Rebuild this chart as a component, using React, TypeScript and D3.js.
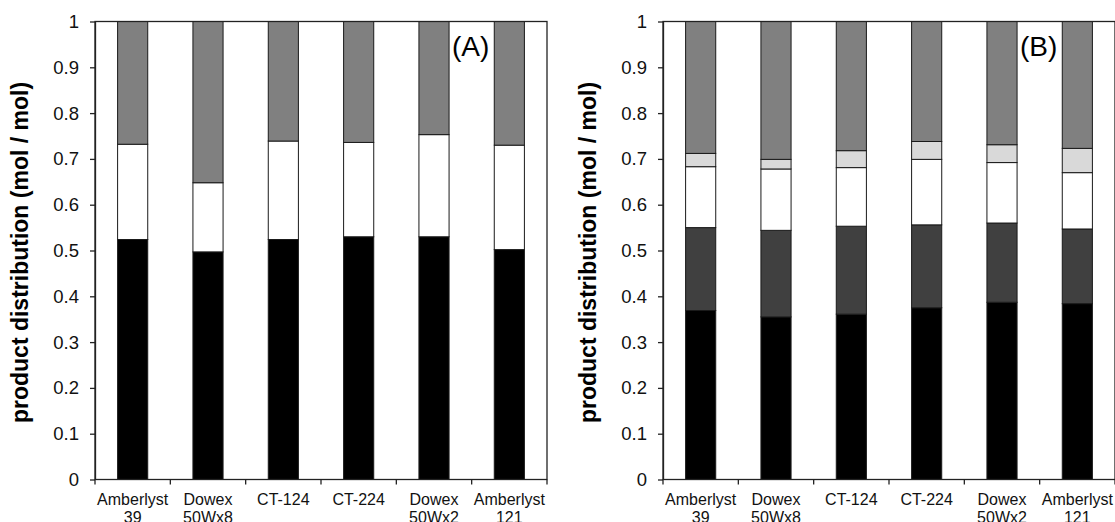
import React, { useRef, useEffect } from "react";
import * as d3 from "d3";

const categories = [
  "Amberlyst 39",
  "Dowex 50Wx8",
  "CT-124",
  "CT-224",
  "Dowex 50Wx2",
  "Amberlyst 121",
];
const yTicks = [0, 0.1, 0.2, 0.3, 0.4, 0.5, 0.6, 0.7, 0.8, 0.9, 1];

// panel (A): bottom -> top
const aBlack = [0.524, 0.497, 0.524, 0.53, 0.53, 0.502];
const aWhite = [0.208, 0.151, 0.215, 0.206, 0.223, 0.228];
const aGray = [0.268, 0.352, 0.261, 0.264, 0.247, 0.27];

// panel (B): bottom -> top
const bBlack = [0.369, 0.355, 0.361, 0.375, 0.387, 0.384];
const bDark = [0.181, 0.189, 0.192, 0.181, 0.173, 0.163];
const bWhite = [0.133, 0.134, 0.128, 0.143, 0.132, 0.123];
const bLight = [0.029, 0.021, 0.037, 0.039, 0.039, 0.053];
const bGray = [0.288, 0.301, 0.282, 0.262, 0.269, 0.277];

const FONT = "'Liberation Sans', Arial, sans-serif";
const W = 1115;
const H = 522;
const plotW = 452;
const plotH = 458;
const top = 21.5;

type Panel = {
  left: number;
  label: string;
  series: number[][];
  colors: string[];
};

const panels: Panel[] = [
  {
    left: 95,
    label: "(A)",
    series: [aBlack, aWhite, aGray],
    colors: ["#000000", "#ffffff", "#808080"],
  },
  {
    left: 663,
    label: "(B)",
    series: [bBlack, bDark, bWhite, bLight, bGray],
    colors: ["#000000", "#404040", "#ffffff", "#d9d9d9", "#808080"],
  },
];

const App = () => {
  const ref = useRef<SVGSVGElement>(null);

  useEffect(() => {
    const svg = d3.select(ref.current);
    svg.selectAll("*").remove();

    const x = d3
      .scaleBand()
      .domain(categories)
      .range([0, plotW])
      .paddingInner(0.6)
      .paddingOuter(0.3);
    const y = d3.scaleLinear().domain([0, 1]).range([plotH, 0]);

    panels.forEach((p) => {
      const keys = p.series.map((_, i) => "s" + i);
      const table = categories.map((c, j) => {
        const row: any = { cat: c };
        p.series.forEach((s, i) => (row["s" + i] = s[j]));
        return row;
      });
      const stacked = d3.stack().keys(keys)(table);

      const g = svg
        .append("g")
        .attr("transform", `translate(${p.left},${top})`);

      // bars
      stacked.forEach((layer, i) => {
        g.append("g")
          .selectAll("rect")
          .data(layer)
          .enter()
          .append("rect")
          .attr("x", (d: any) => x(d.data.cat)!)
          .attr("width", x.bandwidth())
          .attr("y", (d) => y(d[1]))
          .attr("height", (d) => y(d[0]) - y(d[1]))
          .attr("fill", p.colors[i])
          .attr("stroke", "#1a1a1a")
          .attr("stroke-width", 1);
      });

      // frame
      g.append("rect")
        .attr("x", 0)
        .attr("y", 0)
        .attr("width", plotW)
        .attr("height", plotH)
        .attr("fill", "none")
        .attr("stroke", "#222")
        .attr("stroke-width", 1.3);

      // y axis
      const ya = g
        .append("g")
        .call(
          d3
            .axisLeft(y)
            .tickValues(yTicks)
            .tickSize(5)
            .tickSizeOuter(0)
            .tickPadding(11)
            .tickFormat((d) => String(d))
        );
      ya.select(".domain").attr("stroke", "#222").attr("stroke-width", 1.3);
      ya.selectAll("line").attr("stroke", "#222").attr("stroke-width", 1.3);
      ya.selectAll("text")
        .attr("font-family", FONT)
        .attr("font-size", 18.5)
        .attr("fill", "#111");

      // x ticks at band boundaries
      const bounds = d3.range(categories.length + 1).map((i) => i * x.step());
      g.append("g")
        .selectAll("line")
        .data(bounds)
        .enter()
        .append("line")
        .attr("x1", (d) => d)
        .attr("x2", (d) => d)
        .attr("y1", plotH)
        .attr("y2", plotH + 5)
        .attr("stroke", "#222")
        .attr("stroke-width", 1.3);

      // category labels (second line runs off the bottom, as in the original)
      const lab = g
        .append("g")
        .selectAll("text")
        .data(categories)
        .enter()
        .append("text")
        .attr("text-anchor", "middle")
        .attr("font-family", FONT)
        .attr("font-size", 16)
        .attr("fill", "#111");
      lab.each(function (c) {
        const parts = c.split(" ");
        const t = d3.select(this);
        parts.forEach((s, k) => {
          t.append("tspan")
            .attr("x", x(c)! + x.bandwidth() / 2)
            .attr("y", plotH + 25.5 + k * 18)
            .text(s);
        });
      });

      // y title
      g.append("text")
        .attr("transform", `translate(${28 - 95},${plotH / 2 + 2}) rotate(-90)`)
        .attr("text-anchor", "middle")
        .attr("font-family", FONT)
        .attr("font-weight", "bold")
        .attr("font-size", 23)
        .attr("fill", "#000")
        .text("product distribution (mol / mol)");

      // panel tag
      g.append("text")
        .attr("x", plotW - 95)
        .attr("y", 34.5)
        .attr("font-family", FONT)
        .attr("font-size", 28)
        .attr("fill", "#000")
        .text(p.label);
    });
  }, []);

  return (
    <div style={{ position: "absolute", left: 0, top: 0 }}>
      <svg ref={ref} width={W} height={H} style={{ display: "block", background: "#fff" }}></svg>
    </div>
  );
};

export default App;
